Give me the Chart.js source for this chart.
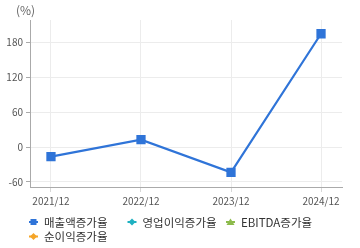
<!DOCTYPE html>
<html>
<head>
<meta charset="utf-8">
<script src="https://cdn.jsdelivr.net/npm/chart.js@4"></script>
<style>
  html, body { margin: 0; padding: 0; background: #fff; }
  #wrap { width: 360px; height: 248px; }
</style>
</head>
<body>
<div id="wrap"><canvas id="growthChart"></canvas></div>
<script>
const years = ['2021/12', '2022/12', '2023/12', '2024/12'];
const salesGrowth = [-16.5, 12.7, -43.4, 194.4];
const opGrowth = [null, null, null, null];
const ebitdaGrowth = [null, null, null, null];
const netGrowth = [null, null, null, null];
const yTicks = [-60, 0, 60, 120, 180];

const FONT = '"Noto Sans CJK KR", "Noto Sans", sans-serif';

const series = [
    {label: '매출액증가율', values: salesGrowth, color: '#2f74d8', shape: 'rect'},
    {label: '영업이익증가율', values: opGrowth, color: '#1fb1c1', shape: 'diamond'},
    {label: 'EBITDA증가율', values: ebitdaGrowth, color: '#8dbb4c', shape: 'triangle'},
    {label: '순이익증가율', values: netGrowth, color: '#f5a528', shape: 'diamond'},
];

function toPoints(arr) {
    return arr.map((v, i) => ({x: i, y: v}));
}

function drawIcon(g, x, y, color, shape) {
    g.save();
    g.strokeStyle = color; g.fillStyle = color; g.lineWidth = 2;
    g.beginPath(); g.moveTo(x, y); g.lineTo(x + 9, y); g.stroke();
    const cx = x + 4.5;
    g.beginPath();
    if (shape == 'rect') {
        g.rect(cx - 3, y - 3, 6, 6);
    } else if (shape == 'diamond') {
        g.moveTo(cx, y - 3.5); g.lineTo(cx + 3.5, y); g.lineTo(cx, y + 3.5); g.lineTo(cx - 3.5, y);
    } else {
        g.moveTo(cx, y - 3.5); g.lineTo(cx + 4, y + 3); g.lineTo(cx - 4, y + 3);
    }
    g.closePath(); g.fill();
    g.restore();
}

// (%) unit label and the legend grid under the x axis
const extras = {
    id: 'extras',
    afterDraw(chart) {
        const g = chart.ctx;
        g.save();
        g.font = '12px ' + FONT;
        g.fillStyle = '#666';
        g.textBaseline = 'middle';
        g.fillText('(%)', 16, 10);

        g.font = '11.5px ' + FONT;
        g.fillStyle = '#333';
        series.forEach((s, i) => {
            const col = i % 3, row = Math.floor(i / 3);
            const x = 29 + col * 98.5;
            const y = 222 + row * 14.5;
            drawIcon(g, x, y, s.color, s.shape);
            g.fillText(s.label, x + 15, y + 0.5);
        });
        g.restore();
    }
};

const ctx = document.getElementById('growthChart').getContext('2d');
const chart = new Chart(ctx, {
    type: 'line',
    data: {
        datasets: series.map(s => ({
            label: s.label,
            data: toPoints(s.values),
            borderColor: s.color,
            backgroundColor: s.color,
            borderWidth: 2.2,
            pointStyle: s.shape == 'triangle' ? 'triangle' : (s.shape == 'rect' ? 'rect' : 'rectRot'),
            pointRadius: 5,
            pointHoverRadius: 5,
            fill: false,
            tension: 0,
        })),
    },
    options: {
        responsive: true,
        maintainAspectRatio: false,
        animation: false,
        layout: {padding: {left: 4, right: 18, top: 20, bottom: 40}},
        scales: {
            x: {
                type: 'linear',
                min: -0.233,
                max: 3.233,
                afterBuildTicks: axis => { axis.ticks = years.map((y, i) => ({value: i})); },
                afterFit: axis => { axis.height = 21; },
                ticks: {
                    callback: (v) => years[v],
                    font: {size: 10, family: FONT},
                    color: '#555',
                    padding: 3,
                    maxRotation: 0,
                },
                grid: {color: '#ececec', tickLength: 5, tickColor: '#d8d8d8'},
                border: {color: '#aaa', width: 1},
            },
            y: {
                min: -68.6,
                max: 218,
                afterBuildTicks: axis => { axis.ticks = yTicks.map(v => ({value: v})); },
                afterFit: axis => { axis.width = 26; },
                ticks: {
                    font: {size: 10, family: FONT},
                    color: '#555',
                    padding: 3,
                },
                grid: {color: '#ececec', tickLength: 4, tickColor: '#aaa'},
                border: {color: '#aaa', width: 1},
            },
        },
        plugins: {
            legend: {display: false},
            tooltip: {enabled: false},
        },
    },
    plugins: [extras],
});
</script>
</body>
</html>
